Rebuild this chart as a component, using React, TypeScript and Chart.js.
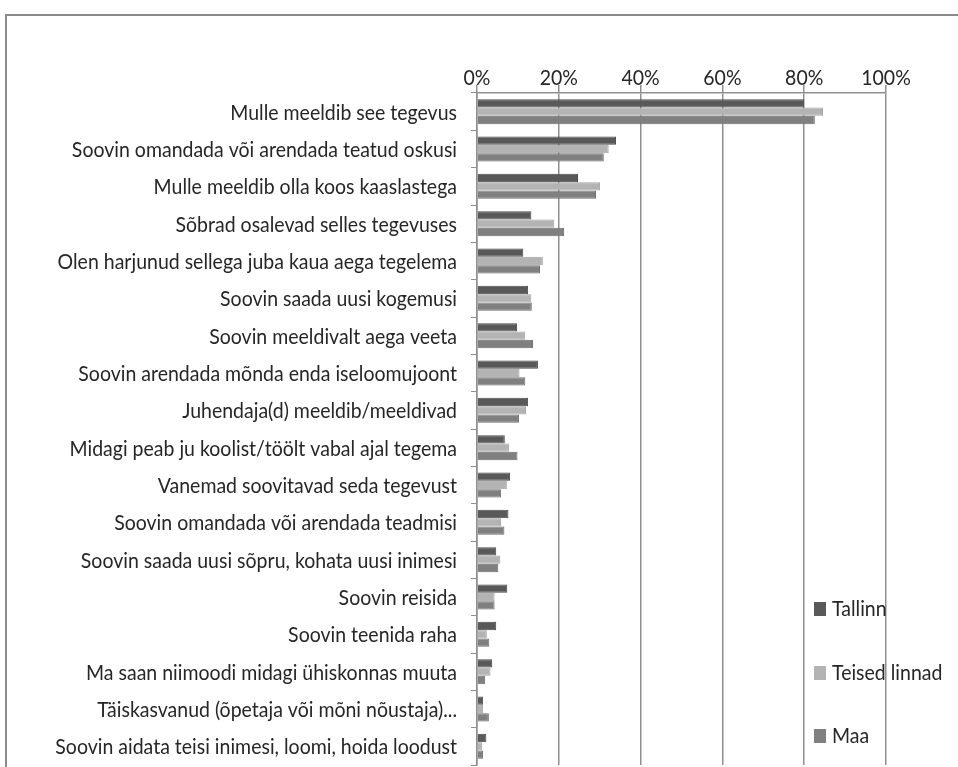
import React, { useEffect, useRef } from "react";
import { Chart, registerables } from "chart.js";

Chart.register(...registerables);

const categories = [
  "Mulle meeldib see tegevus",
  "Soovin omandada või arendada teatud oskusi",
  "Mulle meeldib olla koos kaaslastega",
  "Sõbrad osalevad selles tegevuses",
  "Olen harjunud sellega juba kaua aega tegelema",
  "Soovin saada uusi kogemusi",
  "Soovin meeldivalt aega veeta",
  "Soovin arendada mõnda enda iseloomujoont",
  "Juhendaja(d) meeldib/meeldivad",
  "Midagi peab ju koolist/töölt vabal ajal tegema",
  "Vanemad soovitavad seda tegevust",
  "Soovin omandada või arendada teadmisi",
  "Soovin saada uusi sõpru, kohata uusi inimesi",
  "Soovin reisida",
  "Soovin teenida raha",
  "Ma saan niimoodi midagi ühiskonnas muuta",
  "Täiskasvanud (õpetaja või mõni nõustaja)...",
  "Soovin aidata teisi inimesi, loomi, hoida loodust",
];

const seriesNames = ["Tallinn", "Teised linnad", "Maa"];

const tallinn = [80.0, 34.0, 24.7, 13.3, 11.3, 12.5, 9.8, 14.9, 12.5, 6.8, 8.1, 7.7, 4.7, 7.4, 4.7, 3.7, 1.5, 2.3];
const teisedLinnad = [84.6, 32.2, 30.1, 18.9, 16.1, 13.3, 11.8, 10.4, 12.0, 7.8, 7.3, 5.9, 5.7, 4.3, 2.4, 3.3, 1.5, 1.2];
const maa = [82.6, 31.0, 29.1, 21.3, 15.4, 13.4, 13.7, 11.8, 10.3, 9.9, 5.9, 6.7, 5.2, 4.3, 3.0, 2.0, 2.9, 1.5];

const xTicks = [0, 20, 40, 60, 80, 100];

const colors = ["#595959", "#b3b3b3", "#808080"];
const borders = ["#4a4a4a", "#a3a3a3", "#6e6e6e"];

const FONT = "Lato";
const FONT_SIZE = 19.5;
const SY = 1.12;

function drawStretched(ctx: CanvasRenderingContext2D, text: string, x: number, y: number) {
  ctx.save();
  ctx.translate(x, y);
  ctx.scale(1, SY);
  ctx.fillText(text, 0, 0);
  ctx.restore();
}

const textPlugin = {
  id: "stretchText",
  afterDraw(chart: any) {
    const ctx: CanvasRenderingContext2D = chart.ctx;
    const xs = chart.scales.x;
    const ys = chart.scales.y;
    const area = chart.chartArea;
    ctx.save();
    ctx.fillStyle = "#262626";
    ctx.font = `${FONT_SIZE}px ${FONT}`;
    ctx.textBaseline = "middle";
    ctx.textAlign = "right";
    categories.forEach((c, i) => {
      drawStretched(ctx, c, area.left - 20, ys.getPixelForValue(i) + 1);
    });
    ctx.textAlign = "center";
    xTicks.forEach((v) => {
      drawStretched(ctx, v + "%", xs.getPixelForValue(v), area.top - 15);
    });
    ctx.textAlign = "left";
    const lx = area.right - 72;
    const ly = [area.bottom - 156, area.bottom - 92, area.bottom - 29];
    seriesNames.forEach((n, i) => {
      ctx.fillStyle = colors[i];
      ctx.fillRect(lx, ly[i] - 7, 12, 14);
      ctx.fillStyle = "#262626";
      drawStretched(ctx, n, lx + 18, ly[i]);
    });
    ctx.restore();
  },
};

export default function App() {
  const ref = useRef<HTMLCanvasElement | null>(null);
  useEffect(() => {
    if (!ref.current) return;
    const chart = new Chart(ref.current, {
      type: "bar",
      data: {
        labels: categories,
        datasets: [tallinn, teisedLinnad, maa].map((d, i) => ({
          label: seriesNames[i],
          data: d,
          backgroundColor: colors[i],
          borderColor: borders[i],
          borderWidth: 1,
          categoryPercentage: 0.67,
          barPercentage: 1.0,
        })),
      },
      options: {
        indexAxis: "y",
        responsive: false,
        animation: false,
        layout: { padding: { left: 0, right: 72, top: 0, bottom: 2 } },
        plugins: { legend: { display: false }, tooltip: { enabled: false } },
        scales: {
          x: {
            position: "top",
            min: 0,
            max: 100,
            ticks: { stepSize: 20, display: false },
            grid: { color: "#8f8f8f", lineWidth: 1.5, tickLength: 8 },
            border: { color: "#8f8f8f", width: 1.5 },
            afterFit: (s: any) => {
              s.height = 93;
            },
          },
          y: {
            ticks: { display: false },
            grid: { drawOnChartArea: false, tickLength: 6, color: "#8f8f8f", offset: true },
            border: { color: "#8f8f8f", width: 1.5 },
            afterFit: (s: any) => {
              s.width = 477;
            },
          },
        },
      },
      plugins: [textPlugin],
    });
    return () => chart.destroy();
  }, []);
  return (
    <div style={{ position: "absolute", left: 0, top: 0, width: 958, height: 767, background: "#fff", overflow: "hidden" }}>
      <div
        style={{
          position: "absolute",
          left: 5,
          top: 14,
          width: 1000,
          height: 800,
          borderLeft: "2px solid #8a8a8a",
          borderTop: "2px solid #8a8a8a",
        }}
      />
      <canvas ref={ref} width={958} height={767} style={{ position: "absolute", left: 0, top: 0 }} />
    </div>
  );
}
